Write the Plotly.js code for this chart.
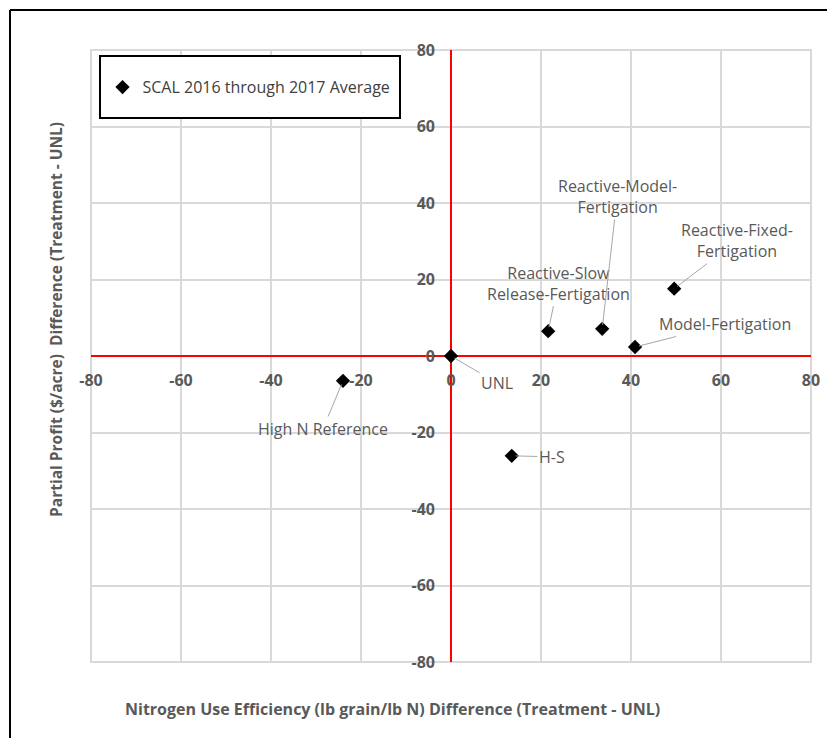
<!DOCTYPE html>
<html>
<head>
<meta charset="utf-8">
<script src="https://cdn.plot.ly/plotly-3.0.1.min.js"></script>
<style>html,body{margin:0;padding:0;background:#fff;overflow:hidden;}#chart{width:827px;height:738px;}</style>
</head>
<body>
<div id="chart"></div>
<script>
// Data
const seriesName = "SCAL 2016 through 2017 Average";
const treatments = ["UNL", "High N Reference", "H-S", "Reactive-Slow<br>Release-Fertigation", "Reactive-Model-<br>Fertigation", "Model-Fertigation", "Reactive-Fixed-<br>Fertigation"];
const nueDiff = [0, -24.0, 13.5, 21.6, 33.6, 40.9, 49.6];
const profitDiff = [0, -6.5, -26.1, 6.5, 7.1, 2.35, 17.6];
const tickVals = [-80, -60, -40, -20, 0, 20, 40, 60, 80];
const tickText = ["-80", "-60", "-40", "-20", "0", "20", "40", "60", "80"];
// label offsets (pixels) for data labels
const labelDX = [46, -20, 40, 10, 15, 90, 63];
const labelDY = [27, 48, 1, -48, -132, -23, -48];

const grey = "#595959";
const FONT = "Open Sans";

const trace = {
  x: nueDiff, y: profitDiff, type: "scatter", mode: "markers", name: seriesName,
  marker: {symbol: "diamond", size: 11, color: "#000000"},
  showlegend: true, cliponaxis: false
};

const annotations = treatments.map((t, i) => ({
  x: nueDiff[i], y: profitDiff[i], xref: "x", yref: "y", text: t,
  showarrow: true, arrowhead: 0, arrowwidth: 1, arrowcolor: "#a6a6a6",
  ax: labelDX[i], ay: labelDY[i], standoff: 4,
  font: {family: FONT, size: 16, color: grey}, align: "center"
}));

annotations.push({
  xref: "paper", yref: "paper", x: (56 - 91) / 720, y: 0.559, text: "Partial Profit ($/acre)  Difference (Treatment - UNL)",
  textangle: -90, showarrow: false, xanchor: "center", yanchor: "middle",
  font: {family: FONT, size: 15.5, color: grey, weight: "bold"}
});
annotations.push({
  xref: "paper", yref: "paper", x: (123 - 91) / 720, y: -0.055, text: "Nitrogen Use Efficiency (lb grain/lb N) Difference (Treatment - UNL)",
  showarrow: false, xanchor: "left", yanchor: "top",
  font: {family: FONT, size: 16, color: grey, weight: "bold"}
});

const layout = {
  width: 827, height: 738,
  margin: {l: 91, r: 16, t: 50, b: 76},
  paper_bgcolor: "#ffffff", plot_bgcolor: "#ffffff",
  showlegend: true,
  legend: {x: 0.016, y: 0.967, xanchor: "left", yanchor: "top", bgcolor: "rgba(0,0,0,0)",
    font: {family: FONT, size: 16, color: "#404040"}, itemwidth: 30},
  xaxis: {
    range: [-80, 80], tickvals: tickVals, ticktext: tickText, showgrid: true, gridcolor: "#d9d9d9", gridwidth: 2,
    zeroline: true, zerolinecolor: "#ff0000", zerolinewidth: 2, showline: false,
    anchor: "free", position: 0.5, ticks: "", ticklabelstandoff: 13,
    tickfont: {family: FONT, size: 16, color: grey, weight: "bold"}, fixedrange: true
  },
  yaxis: {
    range: [-80, 80], tickvals: tickVals, ticktext: tickText, showgrid: true, gridcolor: "#d9d9d9", gridwidth: 2,
    zeroline: true, zerolinecolor: "#ff0000", zerolinewidth: 2, showline: false,
    anchor: "free", position: 0.5, ticks: "", ticklabelstandoff: 16,
    tickfont: {family: FONT, size: 16, color: grey, weight: "bold"}, fixedrange: true
  },
  shapes: [
    {type: "rect", xref: "paper", yref: "paper", x0: 0, x1: 1, y0: 0, y1: 1, line: {color: "#d9d9d9", width: 2}, layer: "below"},
    {type: "rect", xref: "paper", yref: "paper", x0: (100-91)/720, x1: (400-91)/720, y0: (662-118)/612, y1: (662-56)/612,
     line: {color: "#000000", width: 2}, fillcolor: "#ffffff", layer: "above"},
    {type: "line", xref: "paper", yref: "paper", x0: (10-91)/720, x1: (840-91)/720, y0: (662-10)/612, y1: (662-10)/612, line: {color: "#000000", width: 2}},
    {type: "line", xref: "paper", yref: "paper", x0: (10-91)/720, x1: (10-91)/720, y0: (662-10)/612, y1: (662-760)/612, line: {color: "#000000", width: 2}}
  ],
  annotations: annotations
};

Plotly.newPlot("chart", [trace], layout, {displayModeBar: false, staticPlot: true});
</script>
</body>
</html>
